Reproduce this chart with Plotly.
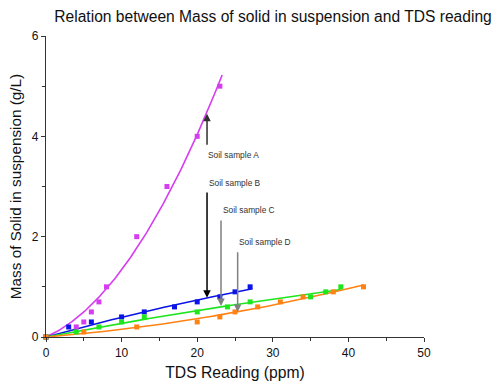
import numpy as np
import plotly.graph_objects as go

# Data
a_x = [0, 4, 5, 6, 7, 8, 12, 16, 20, 23]
a_y = [0, 0.2, 0.3, 0.5, 0.7, 1.0, 2.0, 3.0, 4.0, 5.0]
b_x = [0, 3, 6, 10, 13, 17, 20, 23, 25, 27]
b_y = [0, 0.2, 0.3, 0.4, 0.5, 0.6, 0.7, 0.8, 0.9, 1.0]
c_x = [0, 4, 7, 10, 13, 20, 24, 27, 35, 37, 39]
c_y = [0, 0.1, 0.2, 0.3, 0.4, 0.5, 0.6, 0.7, 0.8, 0.9, 1.0]
d_x = [0, 5, 12, 20, 23, 25, 28, 31, 34, 38, 42]
d_y = [0, 0.1, 0.2, 0.3, 0.4, 0.5, 0.6, 0.7, 0.8, 0.9, 1.0]

series = [
    ("Soil sample A", a_x, a_y, "#d63cf0", 23.3),
    ("Soil sample B", b_x, b_y, "#0a14e6", 27.3),
    ("Soil sample C", c_x, c_y, "#1ee61e", 39.0),
    ("Soil sample D", d_x, d_y, "#ff8214", 42.0),
]

FONT = "Liberation Sans, Arial"

fig = go.Figure()
for name, xs, ys, col, xmax in series:
    xs_a = np.array(xs, float)
    ys_a = np.array(ys, float)
    # least squares fit through the origin: y = p*x + q*x^2
    A = np.column_stack([xs_a, xs_a ** 2])
    (p, q), *_ = np.linalg.lstsq(A, ys_a, rcond=None)
    xf = np.linspace(0, xmax, 150)
    yf = p * xf + q * xf ** 2
    fig.add_trace(go.Scatter(x=xf, y=yf, mode="lines", line=dict(color=col, width=1.6),
                             showlegend=False, hoverinfo="skip", cliponaxis=False))
for name, xs, ys, col, xmax in series:
    fig.add_trace(go.Scatter(x=xs, y=ys, mode="markers", cliponaxis=False,
                             marker=dict(symbol="square", size=5, color=col),
                             showlegend=False, name=name))

# Annotations: (text, text_x, text_y, arrow_x, tail_y, head_y, color)
labels = [
    ("Soil sample A", 21.2, 3.63, 21.3, 3.80, 4.45, "#303030"),
    ("Soil sample B", 21.25, 3.07, 21.3, 2.91, 0.78, "#000000"),
    ("Soil sample C", 23.1, 2.53, 23.15, 2.35, 0.62, "#808080"),
    ("Soil sample D", 25.2, 1.90, 25.35, 1.72, 0.50, "#808080"),
]
for txt, tx, ty, axx, tail, head, col in labels:
    fig.add_annotation(x=tx, y=ty, text=txt, showarrow=False, xanchor="left", yanchor="middle",
                       font=dict(family=FONT, size=8.4, color="#333333"))
    fig.add_annotation(x=axx, y=head, ax=axx, ay=tail, axref="x", ayref="y", xref="x", yref="y",
                       text="", showarrow=True, arrowhead=2, arrowsize=1, arrowwidth=1.5,
                       arrowcolor=col, standoff=0, startstandoff=0)

axis_common = dict(showline=True, linecolor="#333333", linewidth=1.2, ticks="outside",
                   ticklen=4, tickcolor="#333333", showgrid=False, zeroline=False,
                   tickfont=dict(family=FONT, size=12, color="#111111"),
                   mirror=False, automargin=False)

fig.update_xaxes(range=[0, 50], dtick=10,
                 minor=dict(dtick=5, ticks="outside", ticklen=3, tickcolor="#333333"),
                 title=dict(text="TDS Reading (ppm)", font=dict(family=FONT, size=15.7, color="#111111"),
                            standoff=8),
                 **axis_common)
fig.update_yaxes(range=[0, 6], dtick=2,
                 minor=dict(dtick=1, ticks="outside", ticklen=3, tickcolor="#333333"),
                 title=dict(text="Mass of Solid in suspension (g/L)", font=dict(family=FONT, size=15.3, color="#111111"),
                            standoff=6),
                 **axis_common)

fig.update_layout(
    width=497, height=387,
    margin=dict(l=46, r=73, t=36, b=50),
    plot_bgcolor="white", paper_bgcolor="white",
    title=dict(text="Relation between Mass of solid in suspension and TDS reading",
               x=273/497, xanchor="center", y=1-17/387, yanchor="middle",
               font=dict(family=FONT, size=15.6, color="#111111")),
)

fig.write_html("out.html")
